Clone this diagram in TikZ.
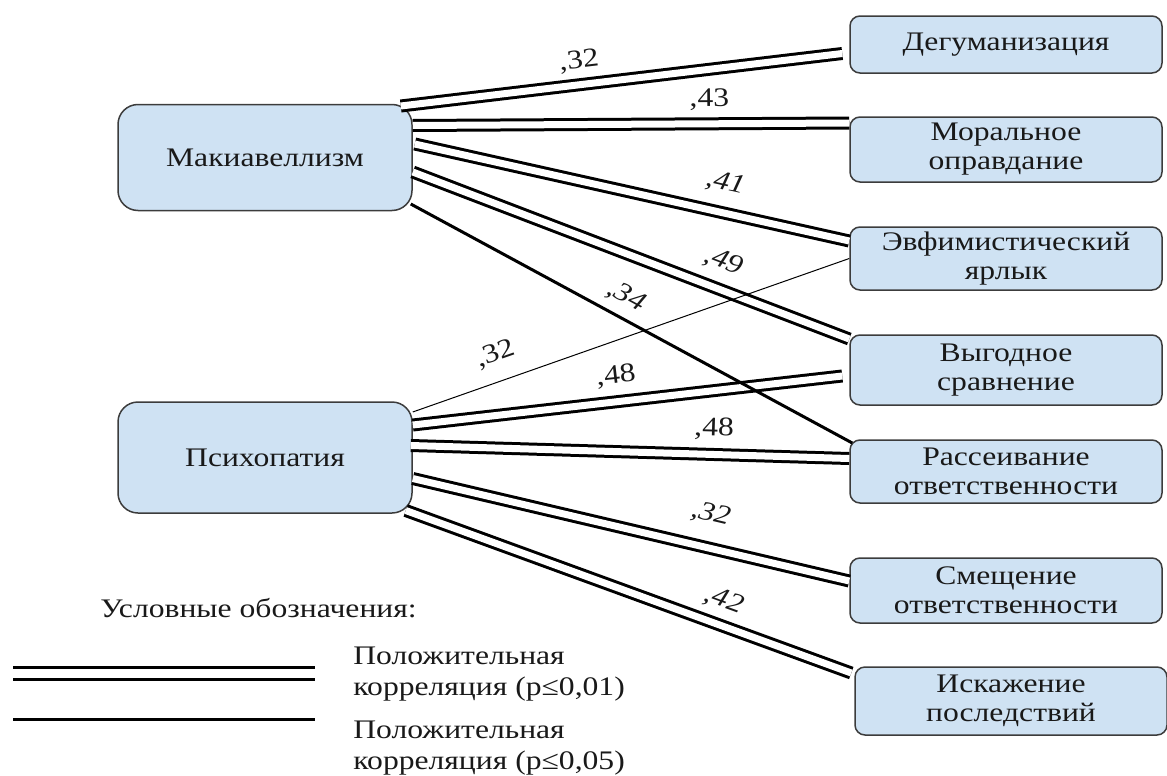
\documentclass[tikz,border=0pt]{standalone}
\usepackage{fontspec}
\setmainfont[FakeStretch=1.18]{Liberation Serif}
\usetikzlibrary{calc}
\definecolor{myblue}{RGB}{207,226,243}
\definecolor{mygray}{RGB}{60,60,60}

\begin{document}
\begin{tikzpicture}[x=0.5pt, y=-0.5pt,
    every node/.style={font=\fontsize{13.4}{14.5}\selectfont, text=black!90},
    trait/.style={draw=mygray, fill=myblue, rounded corners=10pt, line width=0.75pt, minimum width=147pt, minimum height=53pt},
    mech/.style={draw=mygray, fill=myblue, rounded corners=5pt, line width=0.75pt, minimum width=156pt, minimum height=32.5pt, inner ysep=2pt, align=center},
    dbl/.style={double, double distance=3.5pt, line width=1.5pt},
    sgl/.style={line width=1.5pt},
    lbl/.style={sloped, inner sep=0pt},
    lbli/.style={lbl, font=\fontsize{13.4}{14.5}\selectfont\itshape}]
    \useasboundingbox (0,0) rectangle (1167,776);

    % traits
    \node[trait] (mak) at (265,157.5) {Макиавеллизм};
    \node[trait, minimum height=55.5pt] (psy) at (265,457.5) {Психопатия};

    % mechanisms
    \node[mech, minimum height=28.5pt] (deg) at (1006,44.5) {Дегуманизация};
    \node[mech] (mor) at (1006,149.5) {Моральное\\оправдание};
    \node[mech, minimum height=31.5pt] (evf) at (1006,258.5) {Эвфимистический\\ярлык};
    \node[mech, minimum height=35pt] (vyg) at (1006,370) {Выгодное\\сравнение};
    \node[mech, minimum height=31.5pt] (ras) at (1006,471.5) {Рассеивание\\ответственности};
    \node[mech] (sme) at (1006,590.5) {Смещение\\ответственности};
    \node[mech, minimum height=34pt] (isk) at (1011,701) {Искажение\\последствий};

    % p<=0,01
    \draw[dbl] ($(mak.east)+(-12,-51.5)$) -- ($(deg.west)+(-7,9)$) node[lbl, pos=.41, above=5.4pt] {,32};
    \draw[dbl] ($(mak.east)+(0,-32)$) -- ($(mor.west)+(0,-26.5)$) node[lbl, pos=.68, above=6pt] {,43};
    \draw[dbl] ($(mak.east)+(2,-13.5)$) -- ($(evf.west)+(0,-17.5)$) node[lbli, pos=.70, above=8.5pt] {,41};
    \draw[dbl] ($(mak.east)+(0,14.5)$) -- ($(vyg.west)+(0,-31)$) node[lbli, pos=.69, above=7.4pt] {,49};
    \draw[dbl] ($(psy.east)+(0,-32.5)$) -- ($(vyg.west)+(-7,6)$) node[lbl, pos=.48, above=6.6pt] {,48};
    \draw[dbl] ($(psy.east)+(-2,-12)$) -- ($(ras.west)+(0,-13)$) node[lbl, pos=.69, above=6.6pt] {,48};
    \draw[dbl] ($(psy.east)+(0,21)$) -- ($(sme.west)+(0,-9.5)$) node[lbli, pos=.665, above=10.5pt] {,32};
    \draw[dbl] ($(psy.east)+(-7,53)$) -- ($(isk.west)+(-3,-28)$) node[lbli, pos=.695, above=6pt] {,42};

    % p<=0,05
    \draw[sgl] ($(mak.east)+(-2,46.5)$) -- ($(ras.west)+(3,-28.5)$) node[lbli, pos=.465, above=4.4pt] {,34};
    \draw[line width=0.5pt] ($(psy.east)+(0,-45.5)$) -- (evf.west) node[lbl, pos=.21, above=7.9pt] {,32};

    % legend
    \node[anchor=base west, inner sep=0pt] (legtitle) at (100,617) {Условные обозначения:};
    \node[anchor=north west, align=left, inner sep=0pt, font=\fontsize{13.4}{15.5}\selectfont] (leg1) at (353,647) {Положительная\\корреляция (p≤0,01)};
    \node[anchor=north west, align=left, inner sep=0pt, font=\fontsize{13.4}{15.5}\selectfont] (leg2) at (353,721) {Положительная\\корреляция (p≤0,05)};
    \coordinate (lg1a) at (13,673);
    \coordinate (lg1b) at (315,673);
    \coordinate (lg2a) at (13,719);
    \coordinate (lg2b) at (315,719);
    \draw[dbl, double distance=4.5pt] (lg1a) -- (lg1b);
    \draw[sgl] (lg2a) -- (lg2b);
\end{tikzpicture}
\end{document}
